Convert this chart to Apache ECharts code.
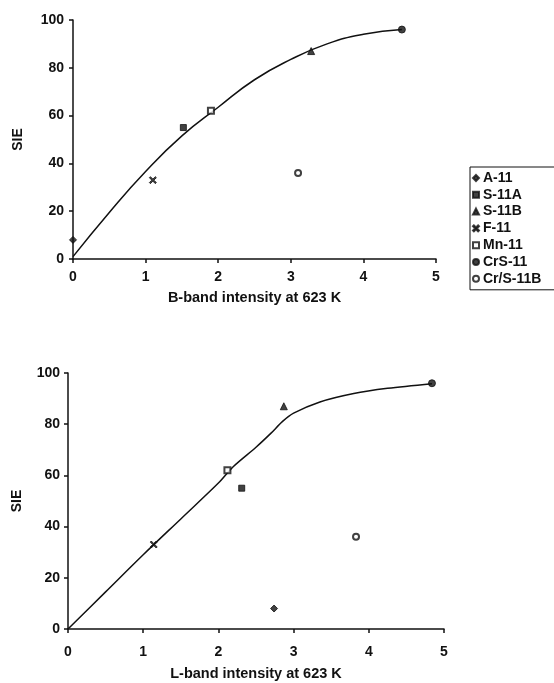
<!DOCTYPE html>
<html>
<head>
<meta charset="utf-8">
<script src="https://cdn.jsdelivr.net/npm/echarts@6/dist/echarts.min.js"></script>
<style>
  html, body { margin: 0; padding: 0; background: #fff; }
  #main { width: 554px; height: 683px; }
</style>
</head>
<body>
<div id="main"></div>
<script>
// samples, same order as the legend
var samples = ['A-11', 'S-11A', 'S-11B', 'F-11', 'Mn-11', 'CrS-11', 'Cr/S-11B'];
var symbols = [
  'diamond',
  'rect',
  'triangle',
  'path://M0,1.5L1.5,0L5,3.5L8.5,0L10,1.5L6.5,5L10,8.5L8.5,10L5,6.5L1.5,10L0,8.5L3.5,5Z',
  'emptyRect',
  'circle',
  'emptyCircle'
];
var symbolSizes = [7, 6, 7, 7, 6, 7, 6];

// SIE values (same for both panels)
var sie = [8, 55, 87, 33, 62, 96, 36];
// B-band intensity at 623 K
var bBand = [0, 1.52, 3.28, 1.1, 1.9, 4.53, 3.1];
// L-band intensity at 623 K
var lBand = [2.74, 2.31, 2.87, 1.14, 2.12, 4.84, 3.83];

// fitted curves
var bCurveX = [0, 0.5, 1, 1.5, 2, 2.5, 3, 3.5, 4, 4.53];
var bCurveY = [1, 19.5, 36.6, 51.5, 63.5, 75, 83.5, 90, 94, 96];
var lCurveX = [0, 0.5, 1, 1.5, 2, 2.2, 2.5, 2.7, 2.85, 3, 3.35, 3.8, 4.25, 4.84];
var lCurveY = [0, 14.5, 29, 43, 57, 63.5, 71, 76.5, 81, 84.3, 88.7, 92, 94, 95.8];

var ink = '#111';
var font = 'Liberation Sans, Arial, sans-serif';

function pairs(xs, ys) {
  return xs.map(function (x, i) { return [x, ys[i]]; });
}

function xAxis(grid, name, gap, margin) {
  return {
    type: 'value',
    gridIndex: grid,
    min: 0,
    max: 5,
    interval: 1,
    name: name,
    nameLocation: 'middle',
    nameGap: gap,
    nameTextStyle: { color: ink, fontSize: 14.5, fontWeight: 'bold', fontFamily: font },
    axisLine: { lineStyle: { color: ink, width: 1.5 } },
    axisTick: { inside: false, length: 4, lineStyle: { color: ink, width: 1.5 } },
    axisLabel: { color: ink, fontSize: 14, fontWeight: 'bold', fontFamily: font, margin: margin },
    splitLine: { show: false }
  };
}

function yAxis(grid, gap, margin) {
  return {
    type: 'value',
    gridIndex: grid,
    min: 0,
    max: 100,
    interval: 20,
    name: 'SIE',
    nameLocation: 'middle',
    nameGap: gap,
    nameRotate: 90,
    nameTextStyle: { color: ink, fontSize: 14, fontWeight: 'bold', fontFamily: font },
    axisLine: { lineStyle: { color: ink, width: 1.5 } },
    axisTick: { inside: false, length: 4, lineStyle: { color: ink, width: 1.5 } },
    axisLabel: { color: ink, fontSize: 14, fontWeight: 'bold', fontFamily: font, margin: margin },
    splitLine: { show: false }
  };
}

var series = [
  {
    type: 'line', xAxisIndex: 0, yAxisIndex: 0, smooth: true, symbol: 'none',
    data: pairs(bCurveX, bCurveY), lineStyle: { color: ink, width: 1.5 }, z: 1
  },
  {
    type: 'line', xAxisIndex: 1, yAxisIndex: 1, smooth: 0.3, symbol: 'none',
    data: pairs(lCurveX, lCurveY), lineStyle: { color: ink, width: 1.5 }, z: 1
  }
];

samples.forEach(function (name, i) {
  [[0, bBand], [1, lBand]].forEach(function (p) {
    series.push({
      name: name,
      type: 'scatter',
      xAxisIndex: p[0],
      yAxisIndex: p[0],
      symbol: symbols[i],
      symbolSize: symbolSizes[i],
      itemStyle: { color: ink, borderColor: ink, borderWidth: 1 },
      data: [[p[1][i], sie[i]]],
      z: 3
    });
  });
});

var chart = echarts.init(document.getElementById('main'), null, { renderer: 'canvas' });
chart.setOption({
  backgroundColor: '#fff',
  animation: false,
  grid: [
    { left: 73, top: 20, width: 363, height: 239 },
    { left: 68, top: 373, width: 376, height: 256 }
  ],
  xAxis: [
    xAxis(0, 'B-band intensity at 623 K', 31, 11),
    xAxis(1, 'L-band intensity at 623 K', 37, 16)
  ],
  yAxis: [
    yAxis(0, 48, 9),
    yAxis(1, 44, 8)
  ],
  legend: {
    data: samples,
    orient: 'vertical',
    left: 470,
    top: 167,
    padding: [4, 40, 4, 2],
    itemGap: 2.8,
    itemWidth: 6,
    itemHeight: 6,
    borderColor: ink,
    borderWidth: 1,
    textStyle: { color: ink, fontSize: 14, fontWeight: 'bold', fontFamily: font, lineHeight: 12, padding: [0, 0, 0, -1] }
  },
  series: series
});
</script>
</body>
</html>
